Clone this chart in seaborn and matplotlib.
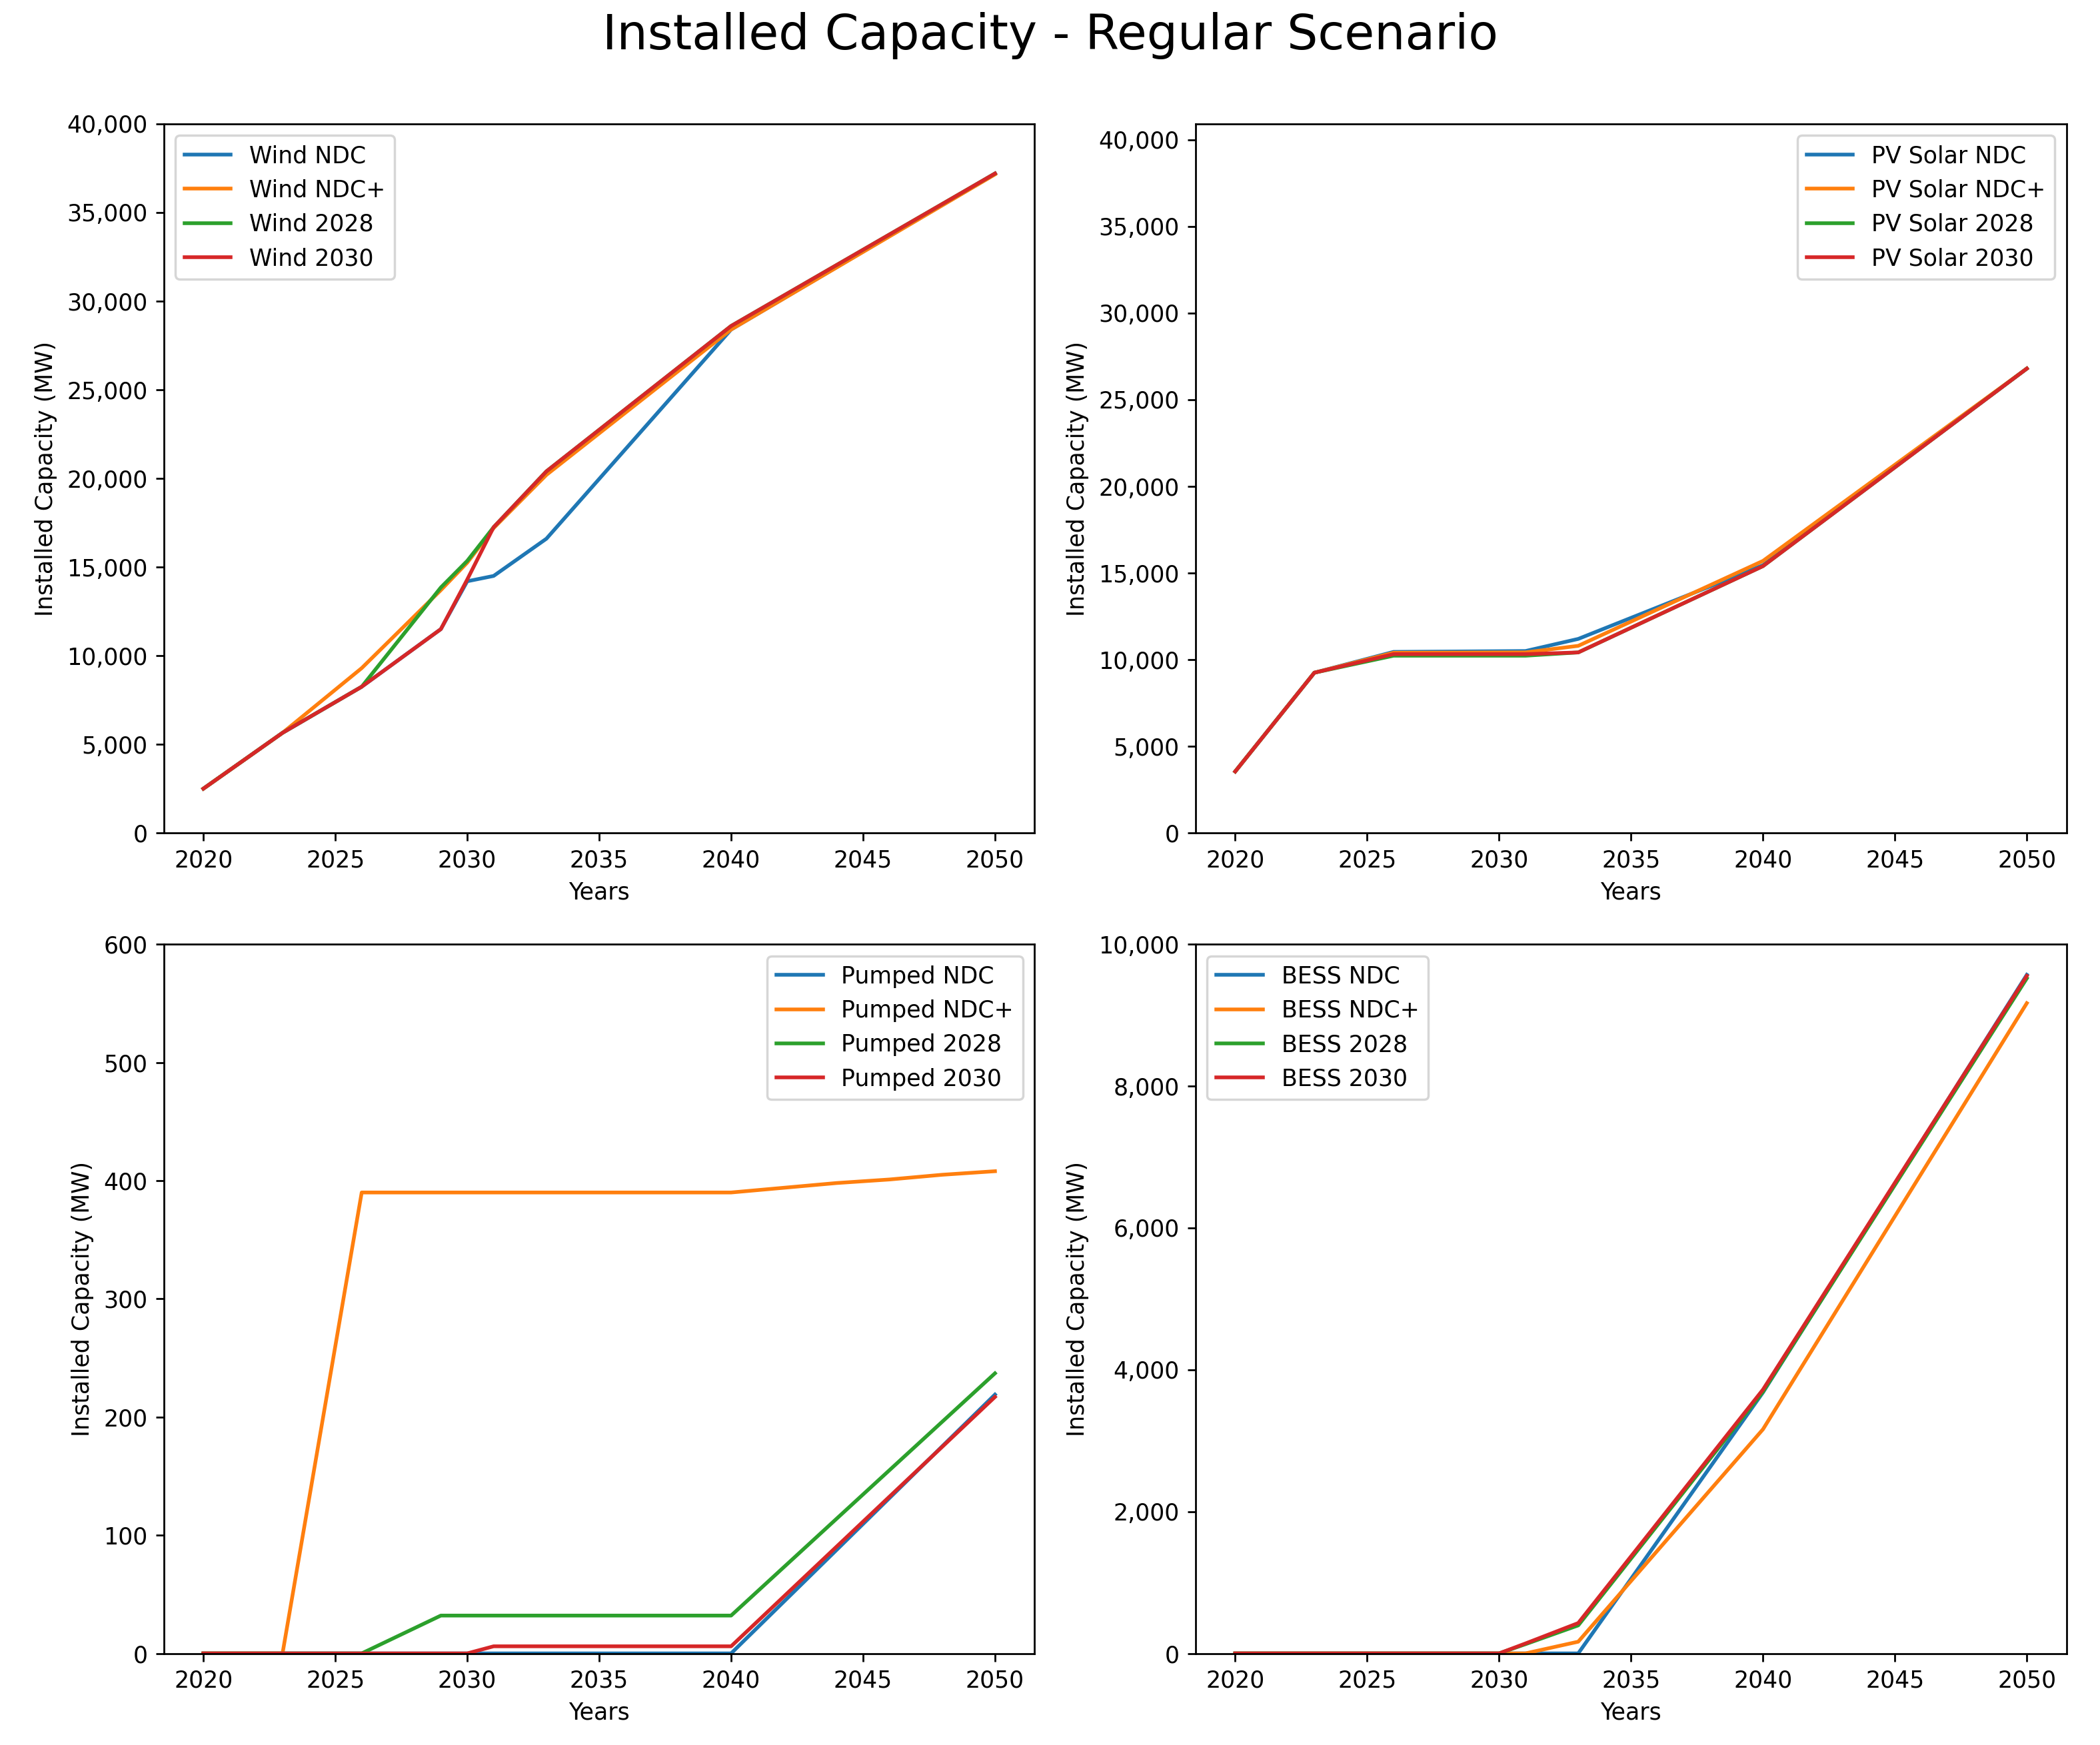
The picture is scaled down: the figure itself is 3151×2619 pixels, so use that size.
import numpy as np
import pandas as pd
import seaborn as sns
from matplotlib import pyplot as plt
from matplotlib.ticker import FuncFormatter, MultipleLocator

# values (MW)
wind_years = [2020, 2023, 2026, 2029, 2030, 2031, 2033, 2040, 2050]
wind_ndc = [2500, 5650, 8250, 11500, 14200, 14500, 16600, 28400, 37200]
wind_ndc_plus = [2500, 5650, 9300, 13700, 15250, 17200, 20200, 28400, 37150]
wind_2028 = [2500, 5650, 8250, 13850, 15350, 17250, 20400, 28600, 37200]
wind_2030 = [2500, 5650, 8250, 11500, 14300, 17250, 20400, 28600, 37200]

pv_years = [2020, 2023, 2026, 2031, 2033, 2040, 2050]
pv_ndc = [3550, 9250, 10450, 10500, 11200, 15450, 26800]
pv_ndc_plus = [3550, 9250, 10400, 10420, 10800, 15700, 26800]
pv_2028 = [3550, 9250, 10230, 10230, 10420, 15400, 26800]
pv_2030 = [3550, 9250, 10320, 10320, 10420, 15400, 26800]

pumped_years = [2020, 2023, 2026, 2029, 2030, 2031, 2040, 2050]
pumped_ndc = [0, 0, 0, 0, 0, 0, 0, 219]
pumped_2028 = [0, 0, 0, 32, 32, 32, 32, 237]
pumped_2030 = [0, 0, 0, 0, 0, 6, 6, 217]
pumped_plus_years = [2020, 2023, 2026, 2029, 2030, 2031, 2040, 2042, 2044, 2046, 2048, 2050]
pumped_ndc_plus = [0, 0, 390, 390, 390, 390, 390, 394, 398, 401, 405, 408]

bess_years = [2020, 2023, 2026, 2029, 2030, 2031, 2033, 2040, 2050]
bess_ndc = [0, 0, 0, 0, 0, 0, 0, 3680, 9570]
bess_ndc_plus = [0, 0, 0, 0, 0, 0, 165, 3160, 9170]
bess_2028 = [0, 0, 0, 0, 0, 130, 395, 3690, 9520]
bess_2030 = [0, 0, 0, 0, 0, 140, 428, 3720, 9555]

panels = [
    ("Wind", [(wind_years, wind_ndc), (wind_years, wind_ndc_plus),
              (wind_years, wind_2028), (wind_years, wind_2030)],
     40000, 5000, "upper left"),
    ("PV Solar", [(pv_years, pv_ndc), (pv_years, pv_ndc_plus),
                  (pv_years, pv_2028), (pv_years, pv_2030)],
     37200 * 1.1, 5000, "upper right"),
    ("Pumped", [(pumped_years, pumped_ndc), (pumped_plus_years, pumped_ndc_plus),
                (pumped_years, pumped_2028), (pumped_years, pumped_2030)],
     600, 100, "upper right"),
    ("BESS", [(bess_years, bess_ndc), (bess_years, bess_ndc_plus),
              (bess_years, bess_2028), (bess_years, bess_2030)],
     10000, 2000, "upper left"),
]
scenarios = ["NDC", "NDC+", "2028", "2030"]
colors = sns.color_palette("tab10", 4)

fig, axes = plt.subplots(2, 2, figsize=(3151 / 250, 2619 / 250))
fig.subplots_adjust(left=0.078, right=0.984, top=0.929, bottom=0.0525,
                    wspace=0.185, hspace=0.157)

for ax, (tech, series, ymax, ystep, loc) in zip(axes.flat, panels):
    for (yrs, vals), scen, col in zip(series, scenarios, colors):
        df = pd.DataFrame({"Year": yrs, "MW": vals})
        sns.lineplot(data=df, x="Year", y="MW", ax=ax, color=col,
                     linewidth=1.6, label=f"{tech} {scen}")
    ax.set_ylim(0, ymax)
    ax.yaxis.set_major_locator(MultipleLocator(ystep))
    ax.yaxis.set_major_formatter(FuncFormatter(lambda v, p: f"{v:,.0f}"))
    ax.set_xticks(np.arange(2020, 2051, 5))
    ax.set_xlabel("Years")
    ax.set_ylabel("Installed Capacity (MW)")
    ax.legend(loc=loc)

fig.suptitle("Installed Capacity - Regular Scenario", fontsize=21, y=0.993, va="top")

plt.savefig("out.png", dpi=250)
